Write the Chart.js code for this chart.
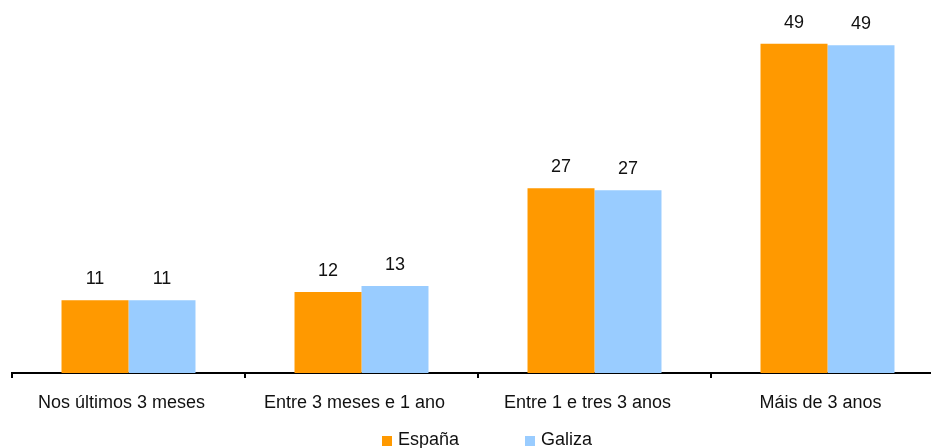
<!DOCTYPE html>
<html>
<head>
<meta charset="utf-8">
<script src="https://cdn.jsdelivr.net/npm/chart.js@4"></script>
<style>
  html, body { margin: 0; padding: 0; overflow: hidden; background: #fff; }
  #chart { display: block; }
</style>
</head>
<body>
<canvas id="chart" width="960" height="448" style="width:960px;height:448px"></canvas>
<script>
// datos
const categories = ['Nos últimos 3 meses', 'Entre 3 meses e 1 ano', 'Entre 1 e tres 3 anos', 'Máis de 3 anos'];
const espana = [10.8, 12.0, 27.4, 48.8];
const galiza = [10.8, 12.9, 27.1, 48.6];
const seriesNames = ['España', 'Galiza'];
const seriesColors = ['#FF9900', '#99CCFF'];

const FONT = '"Liberation Sans", Arial, sans-serif';

// etiquetas de valor encima de cada barra
const valueLabels = {
  id: 'valueLabels',
  afterDatasetsDraw(chart) {
    const ctx = chart.ctx;
    ctx.save();
    ctx.font = '18px ' + FONT;
    ctx.fillStyle = '#111';
    ctx.textAlign = 'center';
    ctx.textBaseline = 'middle';
    chart.data.datasets.forEach((ds, i) => {
      chart.getDatasetMeta(i).data.forEach((bar, j) => {
        ctx.fillText(Math.round(ds.data[j]), bar.x, bar.y - 21);
      });
    });
    ctx.restore();
  }
};

// leyenda abajo
const bottomLegend = {
  id: 'bottomLegend',
  afterDraw(chart) {
    const ctx = chart.ctx;
    ctx.save();
    ctx.font = '18px ' + FONT;
    ctx.textBaseline = 'middle';
    const xs = [382, 525];
    chart.data.datasets.forEach((ds, i) => {
      ctx.fillStyle = ds.backgroundColor;
      ctx.fillRect(xs[i], 436, 10, 10);
      ctx.fillStyle = '#111';
      ctx.textAlign = 'left';
      ctx.fillText(ds.label, xs[i] + 16, 440);
    });
    ctx.restore();
  }
};

new Chart(document.getElementById('chart'), {
  type: 'bar',
  data: {
    labels: categories,
    datasets: [
      { label: seriesNames[0], data: espana, backgroundColor: seriesColors[0] },
      { label: seriesNames[1], data: galiza, backgroundColor: seriesColors[1] }
    ]
  },
  options: {
    responsive: false,
    animation: false,
    categoryPercentage: 0.575,
    barPercentage: 1,
    layout: { padding: { left: 12, right: 16, top: 2, bottom: 0 } },
    plugins: {
      legend: { display: false },
      tooltip: { enabled: false }
    },
    scales: {
      x: {
        afterFit(scale) { scale.height = 75; },
        border: { display: true, color: '#000', width: 2 },
        grid: { offset: true, drawOnChartArea: false, drawTicks: true, tickLength: 5, color: '#000', lineWidth: 2 },
        ticks: { color: '#111', padding: 14, labelOffset: -7, font: { family: FONT, size: 18 } }
      },
      y: {
        display: false,
        min: 0,
        max: 55
      }
    }
  },
  plugins: [valueLabels, bottomLegend]
});
</script>
</body>
</html>
